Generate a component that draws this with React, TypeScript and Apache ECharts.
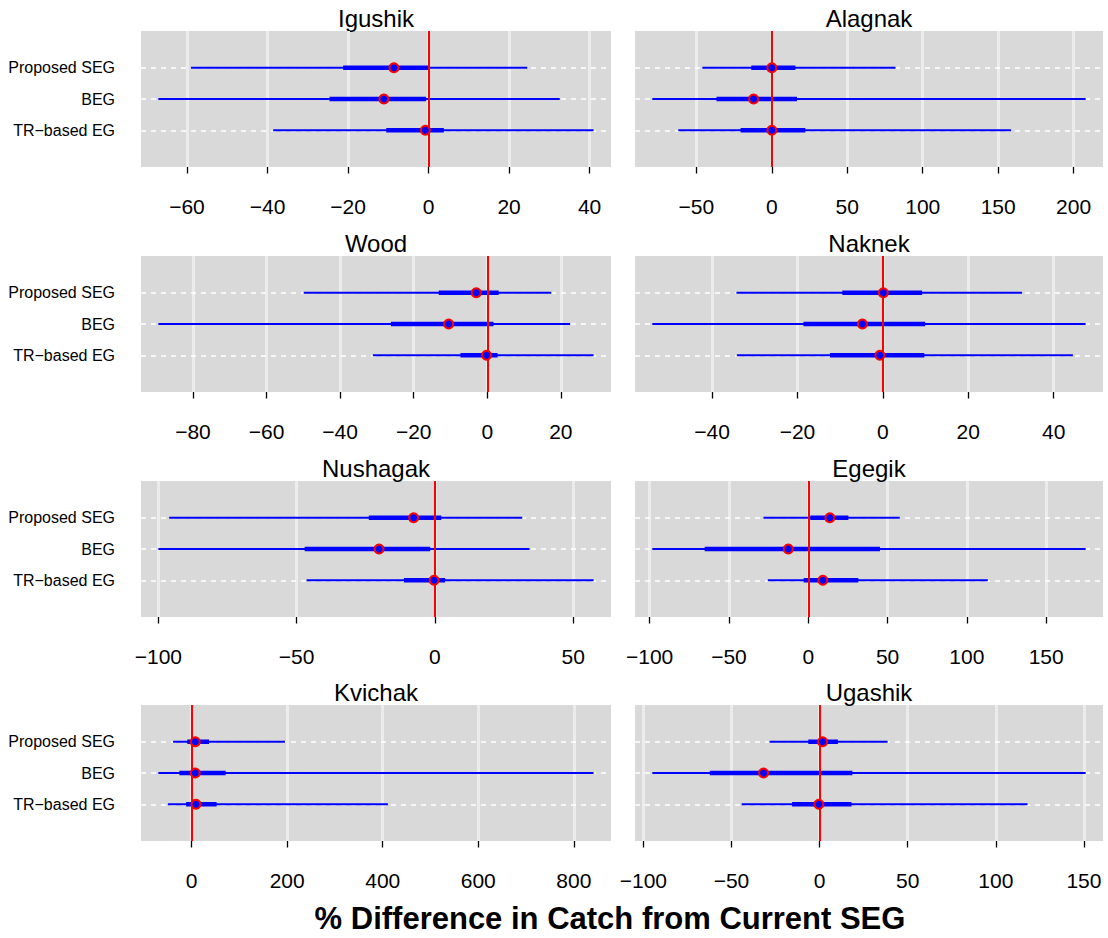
import React, { useEffect, useRef } from "react";
import * as echarts from "echarts";

// Rows: Proposed SEG, BEG, TR-based EG ; values: [lower95, lower50, median, upper50, upper95]
const categories = ["Proposed SEG", "BEG", "TR\u2212based EG"];
const categoryPos = [3, 2, 1];
const rivers = ["Igushik", "Alagnak", "Wood", "Naknek", "Nushagak", "Egegik", "Kvichak", "Ugashik"];

const igushik = [
  [-59.0, -21.2, -8.6, 0.0, 24.5],
  [-67.1, -24.6, -11.1, -0.6, 32.6],
  [-38.6, -10.5, -0.8, 3.8, 41.0],
];
const alagnak = [
  [-46.0, -13.6, 0.0, 15.6, 82.0],
  [-79.2, -36.7, -12.1, 16.7, 208.0],
  [-62.0, -20.7, 0.0, 22.2, 158.5],
];
const wood = [
  [-49.9, -13.2, -3.0, 3.1, 17.4],
  [-89.4, -26.2, -10.5, 1.7, 22.5],
  [-31.1, -7.3, -0.2, 2.8, 28.9],
];
const naknek = [
  [-34.3, -9.5, 0.1, 9.2, 32.6],
  [-54.0, -18.6, -4.8, 9.9, 47.5],
  [-34.2, -12.4, -0.7, 9.7, 44.5],
];
const nushagak = [
  [-96.1, -23.9, -7.7, 2.3, 31.6],
  [-100.0, -47.1, -20.2, -1.7, 34.2],
  [-46.4, -11.2, -0.3, 3.7, 57.4],
];
const egegik = [
  [-28.2, 1.3, 13.6, 25.3, 57.7],
  [-98.3, -65.3, -12.6, 45.2, 174.9],
  [-25.5, -2.9, 9.2, 31.6, 113.2],
];
const kvichak = [
  [-38.9, -9.1, 7.5, 36.4, 195.4],
  [-69.6, -25.7, 7.5, 71.2, 841.4],
  [-49.7, -11.6, 9.1, 52.2, 410.8],
];
const ugashik = [
  [-28.4, -6.4, 1.7, 10.4, 38.6],
  [-94.9, -62.3, -31.8, 18.6, 151.0],
  [-44.2, -15.6, -0.4, 18.1, 118.0],
];
const panelData = [igushik, alagnak, wood, naknek, nushagak, egegik, kvichak, ugashik];

const igushikTicks = [-60, -40, -20, 0, 20, 40];
const alagnakTicks = [-50, 0, 50, 100, 150, 200];
const woodTicks = [-80, -60, -40, -20, 0, 20];
const naknekTicks = [-40, -20, 0, 20, 40];
const nushagakTicks = [-100, -50, 0, 50];
const egegikTicks = [-100, -50, 0, 50, 100, 150];
const kvichakTicks = [0, 200, 400, 600, 800];
const ugashikTicks = [-100, -50, 0, 50, 100, 150];
const panelTicks = [igushikTicks, alagnakTicks, woodTicks, naknekTicks, nushagakTicks, egegikTicks, kvichakTicks, ugashikTicks];

const xTitle = "% Difference in Catch from Current SEG";

const FONT = "'Liberation Sans', Arial, Helvetica, sans-serif";
const colLeft = [141, 635];
const colWidth = [470, 468];
const rowTop = [31, 256, 481, 705];
const gridHeight = 136;

const minus = (v: number) => String(v).replace("-", "\u2212");

export default function App() {
  const ref = useRef<HTMLDivElement>(null);
  useEffect(() => {
    if (!ref.current) return;
    const chart = echarts.init(ref.current, undefined, { renderer: "svg" });
    const grids: any[] = [];
    const xAxes: any[] = [];
    const yAxes: any[] = [];
    const series: any[] = [];
    const graphics: any[] = [];

    panelData.forEach((rows, i) => {
      const col = i % 2;
      const row = Math.floor(i / 2);
      const left = colLeft[col];
      const width = colWidth[col];
      const top = rowTop[row];
      let lo = Infinity;
      let hi = -Infinity;
      rows.forEach((r) => {
        lo = Math.min(lo, ...r);
        hi = Math.max(hi, ...r);
      });
      const pad = (hi - lo) * 0.04;
      const ticks = panelTicks[i];
      grids.push({
        left,
        top,
        width,
        height: gridHeight,
        show: true,
        backgroundColor: "#d9d9d9",
        borderWidth: 0,
        containLabel: false,
      });
      xAxes.push({
        type: "value",
        gridIndex: i,
        min: lo - pad,
        max: hi + pad,
        position: "bottom",
        offset: 2,
        axisLine: { show: false },
        axisTick: {
          show: true,
          length: 12,
          inside: false,
          customValues: ticks,
          lineStyle: { color: "#000", width: 1.3 },
        },
        axisLabel: {
          show: true,
          customValues: ticks,
          formatter: (v: number) => minus(v),
          fontSize: 21,
          fontFamily: FONT,
          color: "#000",
          margin: 27,
        },
        splitLine: { show: false },
      });
      yAxes.push({
        type: "value",
        gridIndex: i,
        min: -0.176,
        max: 4.176,
        axisLine: { show: false },
        axisTick: { show: false, customValues: categoryPos },
        splitLine: { show: false },
        axisLabel: {
          show: col === 0,
          customValues: categoryPos,
          formatter: (v: number) => categories[categoryPos.indexOf(Math.round(v))] || "",
          fontSize: 16,
          fontFamily: FONT,
          color: "#000",
          margin: 26,
        },
      });
      // background guide lines
      series.push({
        type: "line",
        xAxisIndex: i,
        yAxisIndex: i,
        data: [],
        silent: true,
        z: 1,
        markLine: {
          silent: true,
          z: 1,
          symbol: ["none", "none"],
          label: { show: false },
          animation: false,
          data: [
            ...ticks.map((t) => ({ xAxis: t, lineStyle: { color: "#ececec", width: 3, type: "solid" } })),
            ...categoryPos.map((c) => ({ yAxis: c, lineStyle: { color: "#ffffff", width: 1.5, type: [5, 5] } })),
          ],
        },
      });
      // interval segments
      series.push({
        type: "custom",
        xAxisIndex: i,
        yAxisIndex: i,
        z: 2,
        silent: true,
        encode: { x: [1, 2, 3, 4, 5], y: 0 },
        data: rows.map((r, k) => [categoryPos[k], ...r]),
        renderItem: (params: any, api: any) => {
          const y = api.value(0);
          const a = api.coord([api.value(1), y]);
          const b = api.coord([api.value(5), y]);
          const c = api.coord([api.value(2), y]);
          const d = api.coord([api.value(4), y]);
          return {
            type: "group",
            children: [
              { type: "line", shape: { x1: a[0], y1: a[1], x2: b[0], y2: b[1] }, style: { stroke: "#0000ff", lineWidth: 2 } },
              { type: "line", shape: { x1: c[0], y1: c[1], x2: d[0], y2: d[1] }, style: { stroke: "#0000ff", lineWidth: 4.5 } },
            ],
          };
        },
      });
      // zero line
      series.push({
        type: "line",
        xAxisIndex: i,
        yAxisIndex: i,
        data: [],
        silent: true,
        z: 3,
        markLine: {
          silent: true,
          z: 3,
          symbol: ["none", "none"],
          label: { show: false },
          animation: false,
          data: [{ xAxis: 0, lineStyle: { color: "#ff0000", width: 2, type: "solid" } }],
        },
      });
      // medians
      series.push({
        type: "scatter",
        xAxisIndex: i,
        yAxisIndex: i,
        z: 4,
        silent: true,
        symbol: "circle",
        symbolSize: 9,
        itemStyle: { color: "#0000ff", borderColor: "#ff0000", borderWidth: 2, opacity: 1 },
        data: rows.map((r, k) => [r[2], categoryPos[k]]),
      });
      graphics.push({
        type: "text",
        x: left + width / 2,
        y: top - 13,
        style: {
          text: rivers[i],
          fontSize: 24,
          fontFamily: FONT,
          fill: "#000",
          textAlign: "center",
          textVerticalAlign: "middle",
        },
      });
    });

    graphics.push({
      type: "text",
      x: 610,
      y: 918,
      style: {
        text: xTitle,
        fontSize: 31,
        fontWeight: "bold",
        fontFamily: FONT,
        fill: "#000",
        textAlign: "center",
        textVerticalAlign: "middle",
      },
    });

    chart.setOption({
      animation: false,
      backgroundColor: "#ffffff",
      grid: grids,
      xAxis: xAxes,
      yAxis: yAxes,
      series,
      graphic: graphics,
    });
    return () => chart.dispose();
  }, []);
  return (
    <div
      ref={ref}
      style={{ position: "fixed", left: 0, top: 0, width: 1108, height: 938, background: "#fff" }}
    />
  );
}
